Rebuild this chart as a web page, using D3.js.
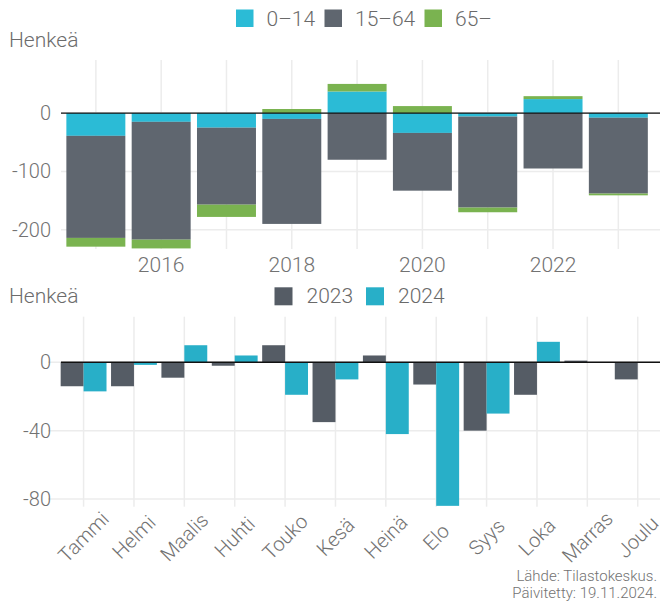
<!DOCTYPE html>
<html>
<head>
<meta charset="utf-8">
<script src="https://cdn.jsdelivr.net/npm/d3@7"></script>
<style>
  body { margin: 0; background: #fff; }
  svg text { font-family: Roboto, "Open Sans", sans-serif; font-weight: 300; }
</style>
</head>
<body>
<svg width="660" height="603"></svg>
<script>
// top chart: population change by age group per year
var years = [2015, 2016, 2017, 2018, 2019, 2020, 2021, 2022, 2023];
var age0_14 = [-39, -15, -25, -10, 37, -34, -6, 24, -8];
var age15_64 = [-175, -202, -132, -180, -80, -99, -156, -95, -130];
var age65 = [-15, -15, -21, 7, 13, 12, -8, 5, -3];
var yearTicks = [2016, 2018, 2020, 2022];
var topYTicks = [0, -100, -200];

// bottom chart: monthly change, two years
var months = ["Tammi", "Helmi", "Maalis", "Huhti", "Touko", "Kesä", "Heinä", "Elo", "Syys", "Loka", "Marras", "Joulu"];
var v2023 = [-14, -14, -9, -2, 10, -35, 4, -13, -40, -19, 1, -10];
var v2024 = [-17, -1.5, 10, 4, -19, -10, -42, -84, -30, 12, 0, null];
var bottomYTicks = [0, -40, -80];

var ageKeys = ["0–14", "15–64", "65–"];
var ageColors = ["#2bbbd6", "#5f666f", "#7ab350"];
var yearKeys = ["2023", "2024"];
var yearColors = ["#555c65", "#28afc8"];

var svg = d3.select("svg");
var gridColor = "#ececec";
var textColor = "#727272";

// ---------- top chart ----------
var xTop = d3.scaleBand().domain(years).range([63.2, 651]).paddingInner(0.097).paddingOuter(0.0485);
var yTop = d3.scaleLinear().domain([-233, 91]).range([249, 60]);

var gTop = svg.append("g");

gTop.selectAll(".vgrid").data(years).join("line")
  .attr("x1", d => xTop(d) + xTop.bandwidth() / 2)
  .attr("x2", d => xTop(d) + xTop.bandwidth() / 2)
  .attr("y1", yTop.range()[1]).attr("y2", yTop.range()[0])
  .attr("stroke", gridColor).attr("stroke-width", 1.5);

gTop.selectAll(".hgrid").data(topYTicks).join("line")
  .attr("x1", 61).attr("x2", 660)
  .attr("y1", d => yTop(d)).attr("y2", d => yTop(d))
  .attr("stroke", gridColor).attr("stroke-width", 1.5);

// diverging stack: positives go up from 0, negatives go down
var topRows = years.map(function (y, i) {
  return { year: y, vals: [age0_14[i], age15_64[i], age65[i]] };
});
var segs = [];
topRows.forEach(function (r) {
  var pos = 0, neg = 0;
  r.vals.forEach(function (v, k) {
    var y0, y1;
    if (v >= 0) { y0 = pos; y1 = pos + v; pos = y1; }
    else { y0 = neg; y1 = neg + v; neg = y1; }
    segs.push({ year: r.year, k: k, y0: y0, y1: y1 });
  });
});

gTop.selectAll("rect").data(segs).join("rect")
  .attr("x", d => xTop(d.year))
  .attr("width", xTop.bandwidth())
  .attr("y", d => yTop(Math.max(d.y0, d.y1)))
  .attr("height", d => Math.abs(yTop(d.y0) - yTop(d.y1)))
  .attr("fill", d => ageColors[d.k]);

gTop.append("line")
  .attr("x1", 61).attr("x2", 660)
  .attr("y1", yTop(0)).attr("y2", yTop(0))
  .attr("stroke", "#111").attr("stroke-width", 1.4);

gTop.selectAll(".ylab").data(topYTicks).join("text")
  .attr("x", 51).attr("y", d => yTop(d))
  .attr("dy", "0.35em")
  .attr("text-anchor", "end")
  .attr("font-size", 20)
  .attr("fill", textColor)
  .text(d => d);

gTop.selectAll(".xlab").data(yearTicks).join("text")
  .attr("x", d => xTop(d) + xTop.bandwidth() / 2).attr("y", 265)
  .attr("dy", "0.35em")
  .attr("text-anchor", "middle")
  .attr("font-size", 21)
  .attr("fill", textColor)
  .text(d => d);

svg.append("text").attr("x", 9).attr("y", 46.5)
  .attr("font-size", 21).attr("fill", "#6c6c6c").text("Henkeä");

// top legend
var legTopX = [236, 324.5, 424.5];
ageKeys.forEach(function (k, i) {
  svg.append("rect").attr("x", legTopX[i]).attr("y", 9.5).attr("width", 17.5).attr("height", 17.5).attr("fill", ageColors[i]);
  svg.append("text").attr("x", legTopX[i] + 30.5).attr("y", 25.5)
    .attr("font-size", 21).attr("fill", "#6a6a6a").text(k);
});

// ---------- bottom chart ----------
var xB = d3.scaleBand().domain(months).range([58.4, 662.9]).paddingInner(0.09).paddingOuter(0.045);
var xSub = d3.scaleBand().domain(yearKeys).range([0, xB.bandwidth()]);
var yB = d3.scaleLinear().domain([-84.5, 26.7]).range([506.7, 316.7]);

var gB = svg.append("g");

gB.selectAll(".vgrid").data(months).join("line")
  .attr("x1", d => xB(d) + xB.bandwidth() / 2)
  .attr("x2", d => xB(d) + xB.bandwidth() / 2)
  .attr("y1", yB.range()[1]).attr("y2", yB.range()[0])
  .attr("stroke", gridColor).attr("stroke-width", 1.5);

gB.selectAll(".hgrid").data(bottomYTicks).join("line")
  .attr("x1", 48).attr("x2", 660)
  .attr("y1", d => yB(d)).attr("y2", d => yB(d))
  .attr("stroke", gridColor).attr("stroke-width", 1.5);

var bars = [];
months.forEach(function (m, i) {
  if (v2023[i] != null) bars.push({ m: m, key: "2023", v: v2023[i], c: yearColors[0] });
  if (v2024[i] != null) bars.push({ m: m, key: "2024", v: v2024[i], c: yearColors[1] });
});

gB.selectAll("rect").data(bars).join("rect")
  .attr("x", d => xB(d.m) + xSub(d.key))
  .attr("width", xSub.bandwidth())
  .attr("y", d => yB(Math.max(0, d.v)))
  .attr("height", d => Math.abs(yB(d.v) - yB(0)))
  .attr("fill", d => d.c);

gB.append("line")
  .attr("x1", 61).attr("x2", 660)
  .attr("y1", yB(0)).attr("y2", yB(0))
  .attr("stroke", "#111").attr("stroke-width", 1.4);

gB.selectAll(".ylab").data(bottomYTicks).join("text")
  .attr("x", 51).attr("y", d => yB(d))
  .attr("dy", "0.35em")
  .attr("text-anchor", "end")
  .attr("font-size", 20)
  .attr("fill", textColor)
  .text(d => d);

gB.selectAll(".xlab").data(months).join("text")
  .attr("transform", d => "translate(" + (xB(d) + xB.bandwidth() / 2) + ",537) rotate(-45)")
  .attr("dy", "0.35em")
  .attr("text-anchor", "middle")
  .attr("font-size", 20)
  .attr("fill", textColor)
  .text(d => d);

svg.append("text").attr("x", 9).attr("y", 302.5)
  .attr("font-size", 21).attr("fill", "#6c6c6c").text("Henkeä");

// bottom legend
var legBX = [274.5, 366];
yearKeys.forEach(function (k, i) {
  svg.append("rect").attr("x", legBX[i]).attr("y", 287.3).attr("width", 18).attr("height", 18).attr("fill", yearColors[i]);
  svg.append("text").attr("x", legBX[i] + 32).attr("y", 303)
    .attr("font-size", 21).attr("fill", "#6a6a6a").text(k);
});

// source note
svg.append("text").attr("x", 657).attr("y", 581).attr("text-anchor", "end")
  .attr("font-size", 15).attr("fill", textColor).text("Lähde: Tilastokeskus.");
svg.append("text").attr("x", 657).attr("y", 598).attr("text-anchor", "end")
  .attr("font-size", 15).attr("fill", textColor).text("Päivitetty: 19.11.2024.");
</script>
</body>
</html>
